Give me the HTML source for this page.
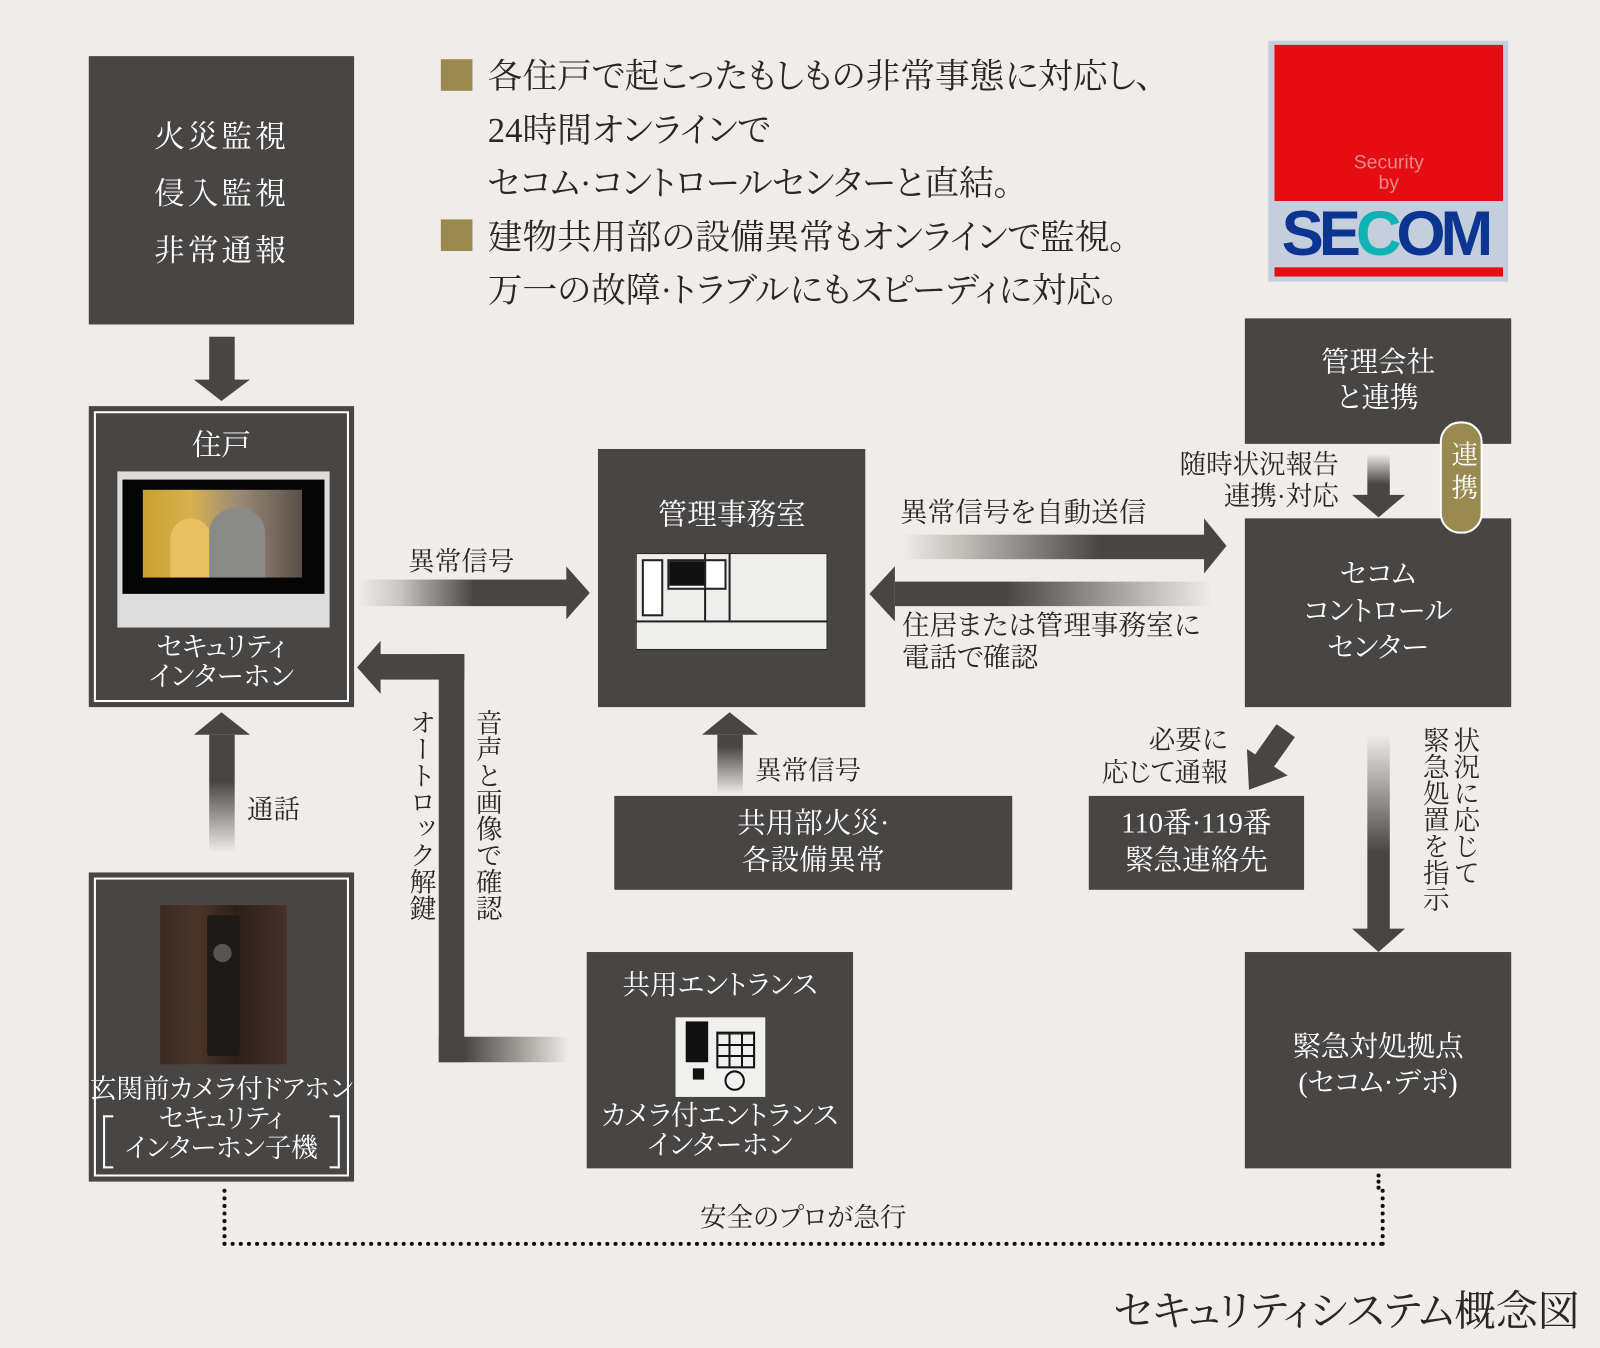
<!DOCTYPE html>
<html><head><meta charset="utf-8">
<style>
html,body{margin:0;padding:0;background:#efece9;}
body{width:1600px;height:1348px;overflow:hidden;position:relative;}
#w{position:absolute;left:0;top:0;width:1568px;height:1321px;transform:scale(1.0204);transform-origin:0 0;font-family:"Liberation Serif","Noto Serif CJK JP","Noto Serif CJK SC",serif;color:#2a2826;font-feature-settings:"palt";}
.b{position:absolute;background:#484644;color:#fff;}
.t{position:absolute;white-space:nowrap;}
.c{position:absolute;left:0;right:0;text-align:center;white-space:nowrap;}
.in{position:absolute;left:5px;top:5px;right:5px;bottom:5px;border:2px solid #fff;}
.v{position:absolute;writing-mode:vertical-rl;white-space:nowrap;}
.sq{position:absolute;background:#9a8a50;width:31px;height:31px;}
</style></head><body><div id="w">

<div class="sq" style="left:432px;top:58px"></div>
<div class="sq" style="left:432px;top:215px"></div>
<div class="t" style="left:478px;top:50px;font-size:34px;line-height:52.5px">各住戸で起こったもしもの非常事態に対応し、<br>24時間オンラインで<br>セコム·コントロールセンターと直結。<br>建物共用部の設備異常もオンラインで監視。<br>万一の故障·トラブルにもスピーディに対応。</div>

<div style="position:absolute;left:1243px;top:40px;width:235px;height:236px;background:#c4cedc"></div>
<div style="position:absolute;left:1249px;top:44px;width:224px;height:153px;background:#e50c12"></div>
<div class="t" style="left:1249px;width:224px;top:150px;text-align:center;font-family:'Liberation Sans',sans-serif;font-size:19px;line-height:20px;color:#e88890">Security<br>by</div>
<div class="t" style="left:1256px;top:194px;font-family:'Liberation Sans',sans-serif;font-weight:bold;font-size:62px;letter-spacing:-5px;color:#0b3590;">SE<span style="color:#0fb3b5">C</span>OM</div>
<div style="position:absolute;left:1249px;top:262px;width:224px;height:9px;background:#e50c12"></div>

<div class="b" style="left:87px;top:55px;width:260px;height:263px;font-size:30px;">
 <div class="c" style="top:52px;line-height:56px;letter-spacing:3px">火災監視<br>侵入監視<br>非常通報</div>
</div>
<div style="position:absolute;left:205px;top:330px;width:25px;height:44px;background:#484644"></div>
<div style="position:absolute;left:190px;top:372px;width:0;height:0;border-left:27px solid transparent;border-right:28px solid transparent;border-top:21px solid #484644"></div>

<div class="b" style="left:87px;top:398px;width:260px;height:295px;">
 <div class="in"></div>
 <div class="c" style="top:16px;font-size:29px">住戸</div>
 <div style="position:absolute;left:28px;top:64px;width:208px;height:153px;background:#dcdcdc"></div>
 <div style="position:absolute;left:33px;top:72px;width:198px;height:112px;background:#050505"></div>
 <div style="position:absolute;left:53px;top:82px;width:156px;height:86px;background:linear-gradient(90deg,#c9a030 0%,#d9b050 30%,#9a8a78 60%,#5a5048 100%)"></div>
 <div style="position:absolute;left:80px;top:110px;width:40px;height:58px;border-radius:20px 20px 0 0;background:#e8c060"></div>
 <div style="position:absolute;left:118px;top:100px;width:55px;height:68px;border-radius:25px 25px 0 0;background:#8a8a88"></div>
 <div class="c" style="top:222px;font-size:27px;line-height:29px">セキュリティ<br>インターホン</div>
</div>

<div class="t" style="left:400px;top:530px;font-size:26px">異常信号</div>
<div style="position:absolute;left:352px;top:568px;width:204px;height:26px;background:linear-gradient(90deg,rgba(72,70,68,0) 0%,#c8c4c0 20%,#484644 55%,#484644 100%)"></div>
<div style="position:absolute;left:555px;top:555px;width:0;height:0;border-top:26px solid transparent;border-bottom:26px solid transparent;border-left:23px solid #484644"></div>

<div style="position:absolute;left:350px;top:628px;width:0;height:0;border-top:26px solid transparent;border-bottom:26px solid transparent;border-right:23px solid #484644"></div>
<div style="position:absolute;left:372px;top:641px;width:83px;height:25px;background:#484644"></div>
<div style="position:absolute;left:430px;top:641px;width:25px;height:400px;background:#484644"></div>
<div style="position:absolute;left:430px;top:1016px;width:127px;height:25px;background:linear-gradient(90deg,#484644 20%,#b0aca8 70%,rgba(72,70,68,0) 100%)"></div>
<div class="v" style="left:397px;top:695px;font-size:26px;line-height:30px">オートロック解鍵</div>
<div class="v" style="left:462px;top:695px;font-size:26px;line-height:30px">音声と画像で確認</div>

<div style="position:absolute;left:190px;top:698px;width:0;height:0;border-left:27px solid transparent;border-right:28px solid transparent;border-bottom:22px solid #484644"></div>
<div style="position:absolute;left:205px;top:720px;width:25px;height:115px;background:linear-gradient(180deg,#484644 40%,rgba(72,70,68,0) 100%)"></div>
<div class="t" style="left:242px;top:773px;font-size:26px">通話</div>

<div class="b" style="left:87px;top:855px;width:260px;height:303px;">
 <div class="in"></div>
 <div style="position:absolute;left:70px;top:32px;width:124px;height:156px;background:linear-gradient(90deg,#3a2a22,#4a3428 30%,#2e2019 60%,#45302a)"></div>
 <div style="position:absolute;left:116px;top:42px;width:32px;height:138px;background:#1e1a18;border-radius:3px"></div>
 <div style="position:absolute;left:122px;top:70px;width:18px;height:18px;border-radius:50%;background:#555;"></div>
 <div class="c" style="top:198px;font-size:26px;line-height:29px">玄関前カメラ付ドアホン<br>セキュリティ<br>インターホン子機</div>
 <div style="position:absolute;left:14px;top:238px;width:8px;height:48px;border:2px solid #fff;border-right:none"></div>
 <div style="position:absolute;right:14px;top:238px;width:8px;height:48px;border:2px solid #fff;border-left:none"></div>
</div>

<div class="b" style="left:586px;top:440px;width:262px;height:253px;">
 <div class="c" style="top:42px;font-size:29px">管理事務室</div>
 <div style="position:absolute;left:37px;top:102px;width:186px;height:93px;background:#eeeeec;border:1px solid #222"></div>
 <div style="position:absolute;left:37px;top:168px;width:188px;height:2px;background:#222"></div>
 <div style="position:absolute;left:43px;top:108px;width:17px;height:52px;border:2px solid #222;background:#fff"></div>
 <div style="position:absolute;left:68px;top:108px;width:54px;height:26px;border:2px solid #222;background:#fff"></div>
 <div style="position:absolute;left:70px;top:110px;width:36px;height:24px;background:#111"></div>
 <div style="position:absolute;left:104px;top:102px;width:2px;height:66px;background:#222"></div>
 <div style="position:absolute;left:128px;top:102px;width:2px;height:66px;background:#222"></div>
</div>

<div style="position:absolute;left:688px;top:698px;width:0;height:0;border-left:27px solid transparent;border-right:28px solid transparent;border-bottom:22px solid #484644"></div>
<div style="position:absolute;left:703px;top:720px;width:25px;height:58px;background:linear-gradient(180deg,#484644 20%,rgba(72,70,68,0) 100%)"></div>
<div class="t" style="left:740px;top:735px;font-size:26px">異常信号</div>

<div class="b" style="left:602px;top:780px;width:390px;height:92px;">
 <div class="c" style="top:10px;font-size:28px;line-height:36px">共用部火災·<br>各設備異常</div>
</div>

<div class="b" style="left:575px;top:933px;width:261px;height:212px;">
 <div class="c" style="top:10px;font-size:27px">共用エントランス</div>
 <div style="position:absolute;left:87px;top:64px;width:88px;height:78px;background:#f0f0ee"></div>
 <div style="position:absolute;left:97px;top:68px;width:22px;height:40px;background:#111"></div>
 <div style="position:absolute;left:104px;top:114px;width:11px;height:11px;background:#111"></div>
 <div style="position:absolute;left:127px;top:78px;width:34px;height:32px;border:2px solid #111;background:repeating-linear-gradient(90deg,transparent 0 10px,#111 10px 12px),repeating-linear-gradient(0deg,transparent 0 9px,#111 9px 11px)"></div>
 <div style="position:absolute;left:135px;top:116px;width:16px;height:16px;border:2px solid #111;border-radius:50%"></div>
 <div class="c" style="top:146px;font-size:27px;line-height:29px">カメラ付エントランス<br>インターホン</div>
</div>

<div class="t" style="left:882px;top:480px;font-size:27px">異常信号を自動送信</div>
<div style="position:absolute;left:885px;top:524px;width:296px;height:24px;background:linear-gradient(90deg,rgba(72,70,68,0) 0%,#c0bcb8 20%,#484644 65%)"></div>
<div style="position:absolute;left:1180px;top:508px;width:0;height:0;border-top:27px solid transparent;border-bottom:27px solid transparent;border-left:22px solid #484644"></div>
<div style="position:absolute;left:852px;top:555px;width:0;height:0;border-top:27px solid transparent;border-bottom:27px solid transparent;border-right:25px solid #484644"></div>
<div style="position:absolute;left:877px;top:570px;width:310px;height:24px;background:linear-gradient(90deg,#484644 35%,#c0bcb8 80%,rgba(72,70,68,0) 100%)"></div>
<div class="t" style="left:884px;top:598px;font-size:27px;line-height:31px">住居または管理事務室に<br>電話で確認</div>

<div class="b" style="left:1220px;top:312px;width:261px;height:123px;">
 <div class="c" style="top:26px;font-size:28px;line-height:35px">管理会社<br>と連携</div>
</div>
<div class="t" style="left:1100px;width:212px;top:440px;text-align:right;font-size:26px;line-height:31px">随時状況報告<br>連携·対応</div>
<div style="position:absolute;left:1340px;top:445px;width:22px;height:42px;background:linear-gradient(180deg,rgba(72,70,68,0),#484644 70%)"></div>
<div style="position:absolute;left:1325px;top:485px;width:0;height:0;border-left:26px solid transparent;border-right:26px solid transparent;border-top:22px solid #484644"></div>

<div class="b" style="left:1220px;top:508px;width:261px;height:185px;">
 <div class="c" style="top:38px;font-size:28px;line-height:36px">セコム<br>コントロール<br>センター</div>
</div>
<div style="position:absolute;left:1411px;top:413px;width:38px;height:106px;background:#9a8a50;border:2px solid #fff;border-radius:20px"></div>
<div class="v" style="left:1418px;top:432px;font-size:26px;color:#fff;line-height:30px;letter-spacing:6px">連携</div>

<div class="t" style="left:1000px;width:203px;top:710px;text-align:right;font-size:26px;line-height:32px">必要に<br>応じて通報</div>
<svg style="position:absolute;left:1210px;top:710px" width="70" height="70"><line x1="50" y1="6" x2="26" y2="40" stroke="#484644" stroke-width="22"/><polygon points="12,24 52,50 14,64" fill="#484644"/></svg>

<div class="b" style="left:1067px;top:780px;width:211px;height:92px;">
 <div class="c" style="top:10px;font-size:28px;line-height:36px">110番·119番<br>緊急連絡先</div>
</div>

<div style="position:absolute;left:1340px;top:720px;width:22px;height:192px;background:linear-gradient(180deg,rgba(72,70,68,0),#484644 60%)"></div>
<div style="position:absolute;left:1325px;top:910px;width:0;height:0;border-left:26px solid transparent;border-right:26px solid transparent;border-top:23px solid #484644"></div>
<div class="v" style="left:1390px;top:712px;font-size:26px;line-height:30px">状況に応じて<br>緊急処置を指示</div>

<div class="b" style="left:1220px;top:933px;width:261px;height:212px;">
 <div class="c" style="top:76px;font-size:28px;line-height:35px">緊急対処拠点<br>(セコム·デポ)</div>
</div>

<div style="position:absolute;left:218px;top:1165px;width:1131px;height:52px;border-left:4px dotted #111;border-right:4px dotted #111;border-bottom:4px dotted #111"></div>
<div style="position:absolute;left:1349px;top:1150px;height:16px;border-left:4px dotted #111"></div>
<div class="t" style="left:686px;top:1173px;font-size:26px">安全のプロが急行</div>

<div class="t" style="left:900px;top:1252px;width:648px;text-align:right;font-size:41px">セキュリティシステム概念図</div>

</div></body></html>
